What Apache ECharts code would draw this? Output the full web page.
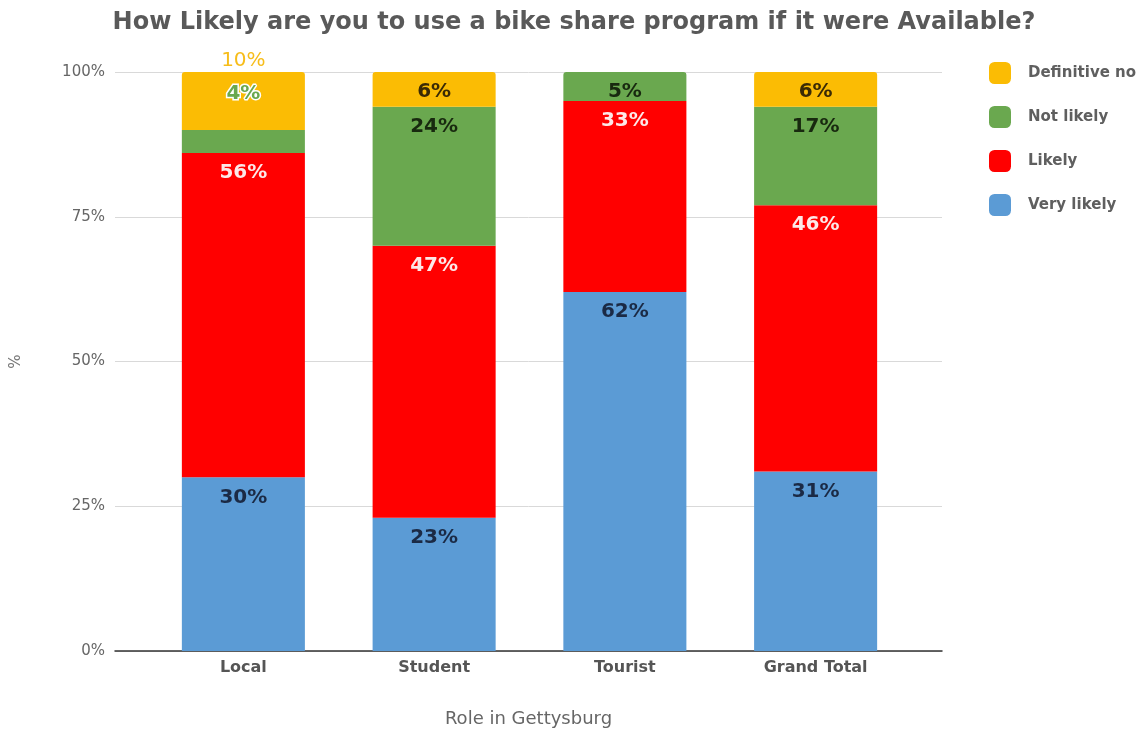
<!DOCTYPE html>
<html>
<head>
<meta charset="utf-8">
<title>Bike share survey</title>
<script src="https://cdn.jsdelivr.net/npm/echarts@6/dist/echarts.min.js"></script>
<style>
  html, body { margin: 0; padding: 0; background: #ffffff; }
  #chart { width: 1148px; height: 730px; }
</style>
</head>
<body>
<div id="chart"></div>
<script>
// Survey answers by respondent role (percent of each group)
const categories = ['Local', 'Student', 'Tourist', 'Grand Total'];
const veryLikely = [30, 23, 62, 31];
const likely = [56, 47, 33, 46];
const notLikely = [4, 24, 5, 17];
const definitiveNo = [10, 6, 0, 6];
const yTicks = [0, 25, 50, 75, 100];

const FONT = '"DejaVu Sans", Verdana, sans-serif';
const COLORS = {
  veryLikely: '#5b9bd5',
  likely: '#ff0000',
  notLikely: '#6aa84f',
  definitiveNo: '#fbbc04'
};
const LABEL_INK = {
  veryLikely: '#1b2a45',
  likely: '#fde8e8',
  notLikely: '#18290f',
  definitiveNo: '#3a2a05'
};

const chart = echarts.init(document.getElementById('chart'), null, { renderer: 'canvas' });

function baseLabel(key) {
  return {
    show: true,
    position: 'insideTop',
    distance: 10,
    fontFamily: FONT,
    fontSize: 20,
    fontWeight: 'bold',
    color: LABEL_INK[key],
    formatter: p => (p.value > 0 ? p.value + '%' : '')
  };
}

// Segments too thin for their label push it upward, drawn in the series colour with a halo
function buildData(values, key, isTop) {
  return values.map((v, i) => {
    const item = { value: v };
    if (isTop || (key === 'notLikely' && definitiveNo[i] === 0)) {
      item.itemStyle = { borderRadius: [3, 3, 0, 0] };
    }
    if (key === 'notLikely' && v < 5) {
      item.label = {
        position: 'top', distance: 26, color: COLORS.notLikely,
        textBorderColor: '#ffffff', textBorderWidth: 3
      };
    }
    if (key === 'definitiveNo' && notLikely[i] < 5) {
      item.label = {
        position: 'top', distance: 1, color: '#f7bd1a',
        fontWeight: 'normal', textBorderColor: '#ffffff', textBorderWidth: 2
      };
    }
    return item;
  });
}

function barSeries(name, key, values, isTop) {
  return {
    name: name,
    type: 'bar',
    stack: 'total',
    xAxisIndex: 1,
    yAxisIndex: 1,
    barWidth: '64.5%',
    itemStyle: { color: COLORS[key] },
    label: baseLabel(key),
    emphasis: { disabled: true },
    data: buildData(values, key, isTop)
  };
}

const option = {
  backgroundColor: '#ffffff',
  animation: false,
  title: {
    text: 'How Likely are you to use a bike share program if it were Available?',
    left: 'center',
    top: 6,
    textStyle: { fontFamily: FONT, fontSize: 24, fontWeight: 'bold', color: '#595959' }
  },
  legend: {
    orient: 'vertical',
    left: 984,
    top: 57,
    itemWidth: 22,
    itemHeight: 22,
    itemGap: 22,
    icon: 'roundRect',
    data: ['Definitive no', 'Not likely', 'Likely', 'Very likely'],
    textStyle: {
      fontFamily: FONT, fontSize: 15, fontWeight: 'bold', color: '#5f5f5f',
      padding: [0, 0, 0, 12]
    }
  },
  grid: [
    // full-width frame carrying gridlines, value labels and axis titles
    { left: 115, right: 206, top: 72, bottom: 79, outerBoundsMode: 'none' },
    // narrower band where the columns sit
    { left: 148, right: 237, top: 72, bottom: 79, outerBoundsMode: 'none' }
  ],
  xAxis: [
    {
      type: 'value', gridIndex: 0, min: 0, max: 1,
      axisLine: { show: true, onZero: false, lineStyle: { color: '#333333', width: 1.5 } },
      axisTick: { show: false }, axisLabel: { show: false }, splitLine: { show: false },
      name: 'Role in Gettysburg', nameLocation: 'middle', nameGap: 59,
      nameTextStyle: { fontFamily: FONT, fontSize: 18, color: '#666666' }
    },
    {
      type: 'category', gridIndex: 1, data: categories,
      axisLine: { show: false }, axisTick: { show: false },
      axisLabel: { fontFamily: FONT, fontSize: 16, fontWeight: 'bold', color: '#555555', margin: 9 }
    }
  ],
  yAxis: [
    {
      type: 'value', gridIndex: 0, min: yTicks[0], max: yTicks[yTicks.length - 1],
      interval: yTicks[1] - yTicks[0],
      axisLine: { show: false }, axisTick: { show: false },
      axisLabel: { fontFamily: FONT, fontSize: 15, color: '#666666', margin: 10, formatter: '{value}%' },
      splitLine: { show: true, lineStyle: { color: '#d9d9d9', width: 1 } },
      name: '%', nameLocation: 'middle', nameGap: 91,
      nameTextStyle: { fontFamily: FONT, fontSize: 15, color: '#777777' }
    },
    {
      type: 'value', gridIndex: 1, min: 0, max: 100, show: false
    }
  ],
  series: [
    barSeries('Very likely', 'veryLikely', veryLikely, false),
    barSeries('Likely', 'likely', likely, false),
    barSeries('Not likely', 'notLikely', notLikely, false),
    barSeries('Definitive no', 'definitiveNo', definitiveNo, true)
  ]
};

chart.setOption(option);
</script>
</body>
</html>
